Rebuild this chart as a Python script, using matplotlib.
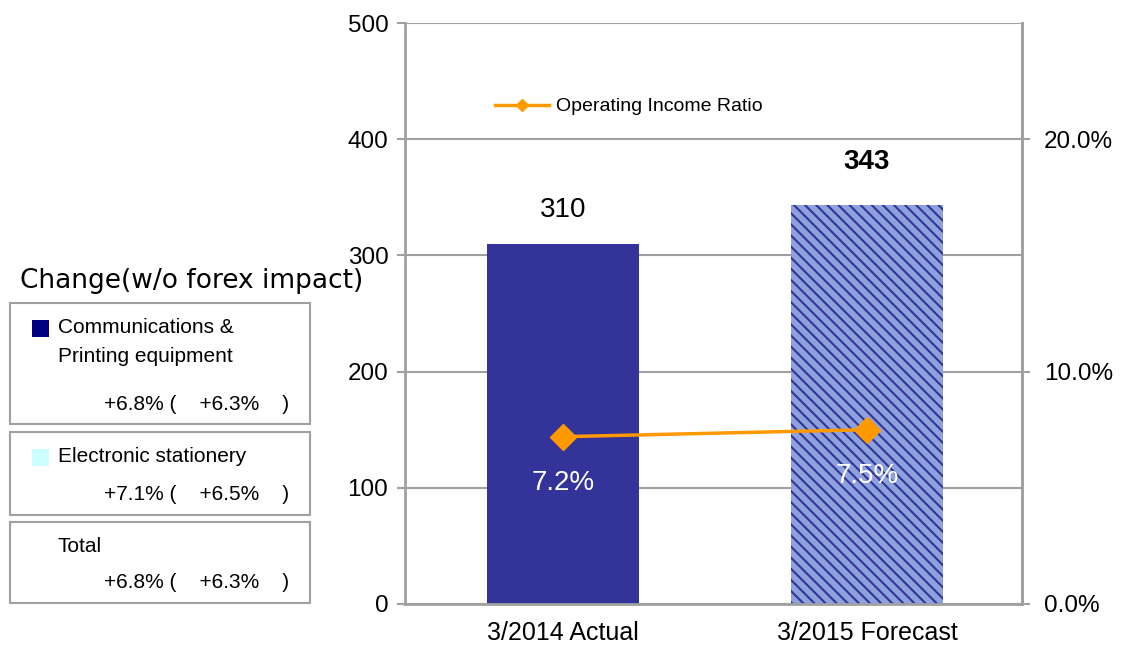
import matplotlib
matplotlib.use("Agg")
import matplotlib.pyplot as plt
from matplotlib.patches import Rectangle
from matplotlib.ticker import FuncFormatter, MultipleLocator

plt.rcParams["font.family"] = ["Liberation Sans", "DejaVu Sans"]
plt.rcParams["hatch.linewidth"] = 1.5

# data
categories = ["3/2014 Actual", "3/2015 Forecast"]
op_income = [310, 343]
op_ratio = [7.2, 7.5]
seg_labels = [["Communications &", "Printing equipment"],
              ["Electronic stationery"],
              ["Total"]]
seg_change = ["+6.8%", "+7.1%", "+6.8%"]
seg_change_fx = ["+6.3%", "+6.5%", "+6.3%"]
seg_colors = ["#000080", "#ccffff", None]

W, H = 1121, 647
fig = plt.figure(figsize=(W / 100, H / 100), dpi=100)
ax = fig.add_axes([405 / W, 1 - 604 / H, (1022 - 405) / W, (604 - 23) / H])
ax2 = ax.twinx()

grey = "#a0a0a0"
x = list(range(len(categories)))
bars = ax.bar(x, op_income, width=0.5, color=["#333399", "#8da2dc"],
              edgecolor="none", zorder=2)
bars[1].set_hatch("\\\\\\")
bars[1].set_edgecolor("#333399")
bars[1].set_linewidth(0)

ax.set_xlim(-0.52, 1.51)
ax.set_ylim(0, 500)
ax.yaxis.set_major_locator(MultipleLocator(100))
ax.grid(axis="y", color=grey, linewidth=1.5, zorder=0)
ax.set_axisbelow(True)
ax.set_xticks(x)
ax.set_xticklabels(categories, fontsize=18)
ax.tick_params(axis="x", length=0, pad=12)
ax.tick_params(axis="y", labelsize=17.5, length=6, width=1.5, color=grey, pad=6)
ax.spines["top"].set_visible(False)
for s in ["left", "bottom", "right"]:
    ax.spines[s].set_color(grey)
    ax.spines[s].set_linewidth(2)

# value labels above bars
ax.text(x[0], op_income[0] + 23, f"{op_income[0]}", ha="center", va="baseline",
        fontsize=20)
ax.text(x[1], op_income[1] + 31, f"{op_income[1]}", ha="center", va="baseline",
        fontsize=20, fontweight="bold")

ax2.set_ylim(0, 25)
ax2.yaxis.set_major_locator(MultipleLocator(10))
ax2.yaxis.set_major_formatter(FuncFormatter(lambda v, p: f"{v:.1f}%"))
ax2.tick_params(axis="y", labelsize=17.5, length=6, width=1.5, color=grey, pad=10)
for s in ["top", "left", "bottom"]:
    ax2.spines[s].set_visible(False)
ax2.spines["right"].set_color(grey)
ax2.spines["right"].set_linewidth(2)

line, = ax2.plot(x, op_ratio, color="#ff9900", linewidth=2.5, marker="D",
                 markersize=13, zorder=3, label="Operating Income Ratio")
for xi, r in zip(x, op_ratio):
    ax2.text(xi, r - 2.0, f"{r:.1f}%", ha="center", va="center",
             fontsize=20, color="white")

ax2.legend(handles=[line], loc="center left", bbox_to_anchor=(0.13, 0.856),
           frameon=False, fontsize=14, handlelength=2.8, handletextpad=0.35,
           borderpad=0, markerscale=0.5)

# left side panel: change excluding forex impact
fig.text(20 / W, 1 - 281 / H, "Change(w/o forex impact)", fontsize=19,
         family="DejaVu Sans", va="center", ha="left")

boxes = [(303, 424), (432, 515), (522, 603)]
for lines, chg, chg_fx, sq, (top, bot) in zip(seg_labels, seg_change,
                                               seg_change_fx, seg_colors, boxes):
    fig.add_artist(Rectangle((10 / W, 1 - bot / H), 300 / W, (bot - top) / H,
                             transform=fig.transFigure, facecolor="white",
                             edgecolor=grey, linewidth=1.5))
    for i, txt in enumerate(lines):
        fig.text(58 / W, 1 - (top + 24 + 30 * i) / H, txt, fontsize=15,
                 va="center", ha="left")
    if sq:
        fig.add_artist(Rectangle((32 / W, 1 - (top + 34) / H), 17 / W, 17 / H,
                                 transform=fig.transFigure, facecolor=sq,
                                 edgecolor="none"))
    fig.text(104 / W, 1 - (bot - 20) / H, f"{chg} (    {chg_fx}    )",
             fontsize=15, va="center", ha="left")

fig.savefig("out.png", dpi=100)
